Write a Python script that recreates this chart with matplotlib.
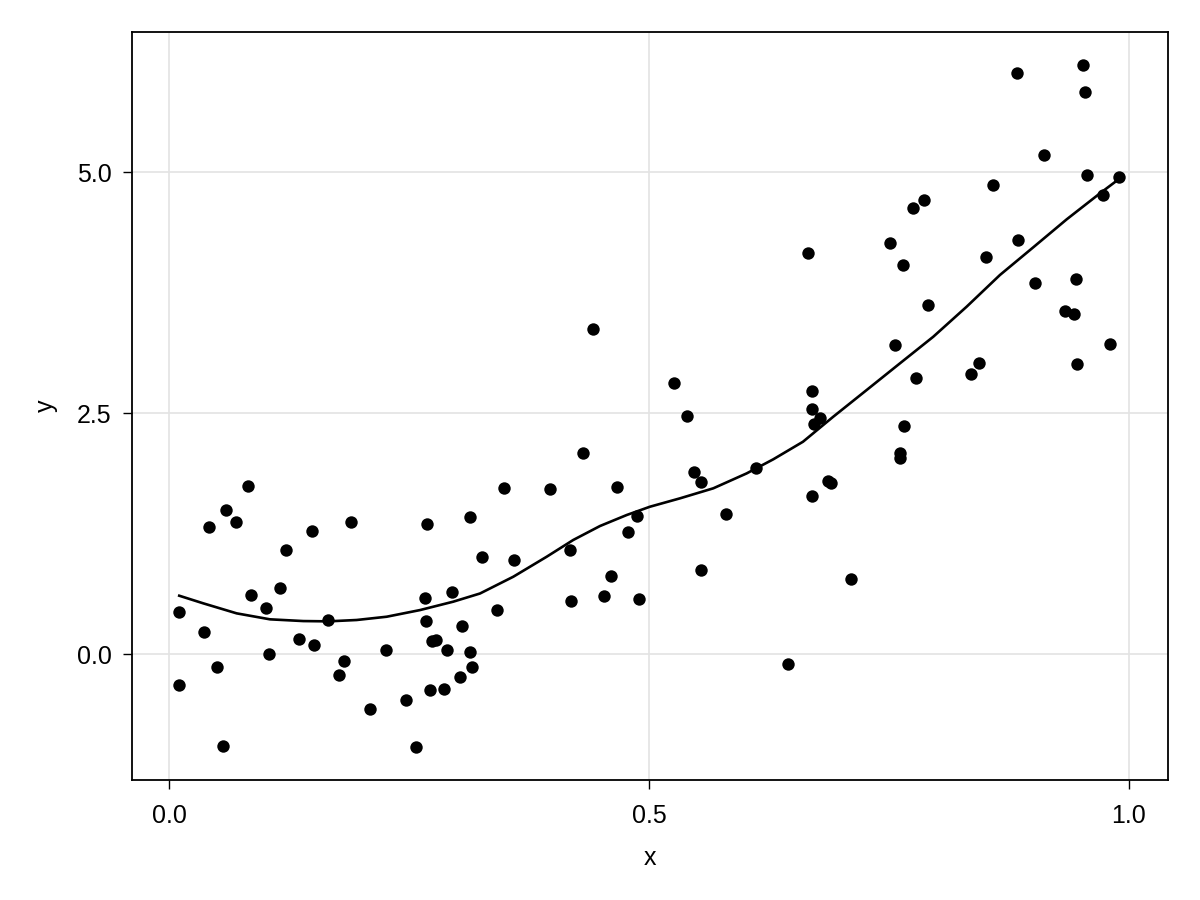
import numpy as np
import matplotlib
matplotlib.use('Agg')
import matplotlib.pyplot as plt

plt.rcParams['font.family'] = ['Liberation Sans', 'DejaVu Sans']

# Scatter data
x_pts = [0.010, 0.010, 0.036, 0.042, 0.050, 0.056, 0.059, 0.070, 0.082, 0.085,
         0.101, 0.104, 0.116, 0.122, 0.135, 0.149, 0.151, 0.166, 0.177, 0.182,
         0.190, 0.209, 0.226, 0.247, 0.257, 0.267, 0.268, 0.269, 0.272, 0.274,
         0.278, 0.286, 0.290, 0.295, 0.303, 0.305, 0.314, 0.314, 0.316, 0.326,
         0.342, 0.349, 0.359, 0.397, 0.418, 0.419, 0.431, 0.442, 0.453, 0.460,
         0.467, 0.478, 0.488, 0.490, 0.526, 0.540, 0.547, 0.554, 0.554, 0.580,
         0.611, 0.645, 0.666, 0.670, 0.670, 0.672, 0.678, 0.670, 0.686, 0.690,
         0.710, 0.751, 0.756, 0.761, 0.762, 0.765, 0.766, 0.775, 0.778, 0.786,
         0.791, 0.835, 0.844, 0.851, 0.858, 0.883, 0.884, 0.902, 0.911, 0.933,
         0.943, 0.945, 0.946, 0.952, 0.954, 0.956, 0.973, 0.980, 0.990]
y_pts = [0.44, -0.32, 0.23, 1.32, -0.13, -0.95, 1.49, 1.37, 1.74, 0.61,
         0.48, 0.00, 0.68, 1.08, 0.16, 1.28, 0.09, 0.35, -0.22, -0.07,
         1.37, -0.57, 0.04, -0.48, -0.96, 0.58, 0.34, 1.35, -0.37, 0.13,
         0.15, -0.36, 0.04, 0.64, -0.24, 0.29, 1.42, 0.02, -0.13, 1.01,
         0.46, 1.72, 0.98, 1.71, 1.08, 0.55, 2.09, 3.37, 0.60, 0.81,
         1.73, 1.27, 1.43, 0.57, 2.81, 2.47, 1.89, 1.78, 0.87, 1.45,
         1.93, -0.10, 4.16, 2.73, 2.54, 2.39, 2.45, 1.64, 1.79, 1.77,
         0.78, 4.26, 3.21, 2.09, 2.03, 4.04, 2.37, 4.63, 2.86, 4.71,
         3.62, 2.90, 3.02, 4.12, 4.87, 6.03, 4.29, 3.85, 5.18, 3.56,
         3.53, 3.89, 3.01, 6.11, 5.83, 4.97, 4.76, 3.22, 4.95]

# Smoothed fit curve
x_fit = [0.0107, 0.0357, 0.0705, 0.1052, 0.1399, 0.1659, 0.1955, 0.2268,
         0.2615, 0.2961, 0.3240, 0.3587, 0.3934, 0.4211, 0.4490, 0.4768,
         0.5010, 0.5323, 0.5670, 0.6018, 0.6295, 0.6604, 0.6920, 0.7268,
         0.7615, 0.7961, 0.8309, 0.8656, 0.9003, 0.9351, 0.9698, 0.9906]
y_fit = [0.605, 0.526, 0.422, 0.360, 0.342, 0.339, 0.353, 0.387,
         0.456, 0.543, 0.628, 0.802, 1.009, 1.183, 1.328, 1.442,
         1.528, 1.615, 1.719, 1.874, 2.020, 2.202, 2.462, 2.739,
         3.016, 3.291, 3.603, 3.932, 4.219, 4.509, 4.779, 4.935]

fig = plt.figure(figsize=(12, 9), dpi=100)
ax = fig.add_axes([0.11, 0.1333, 0.8633, 0.8311])

ax.scatter(x_pts, y_pts, s=80, color='black', linewidths=0, zorder=3)
ax.plot(x_fit, y_fit, color='black', lw=1.9, zorder=2)

ax.set_xlim(-0.0385, 1.0406)
ax.set_ylim(-1.307, 6.452)
ax.set_xticks([0.0, 0.5, 1.0])
ax.set_xticklabels(['0.0', '0.5', '1.0'])
ax.set_yticks([0.0, 2.5, 5.0])
ax.set_yticklabels(['0.0', '2.5', '5.0'])
ax.tick_params(length=6.5, width=1.0, direction='out', labelsize=18)
ax.tick_params(axis='x', pad=11)
ax.tick_params(axis='y', pad=8)
ax.grid(True, color='#e3e3e3', lw=1.2)
ax.set_axisbelow(True)
for sp in ax.spines.values():
    sp.set_linewidth(1.3)

ax.set_xlabel('x', fontsize=18, labelpad=13)
ax.set_ylabel('y', fontsize=18, labelpad=14)

fig.savefig('out.png', dpi=100)
